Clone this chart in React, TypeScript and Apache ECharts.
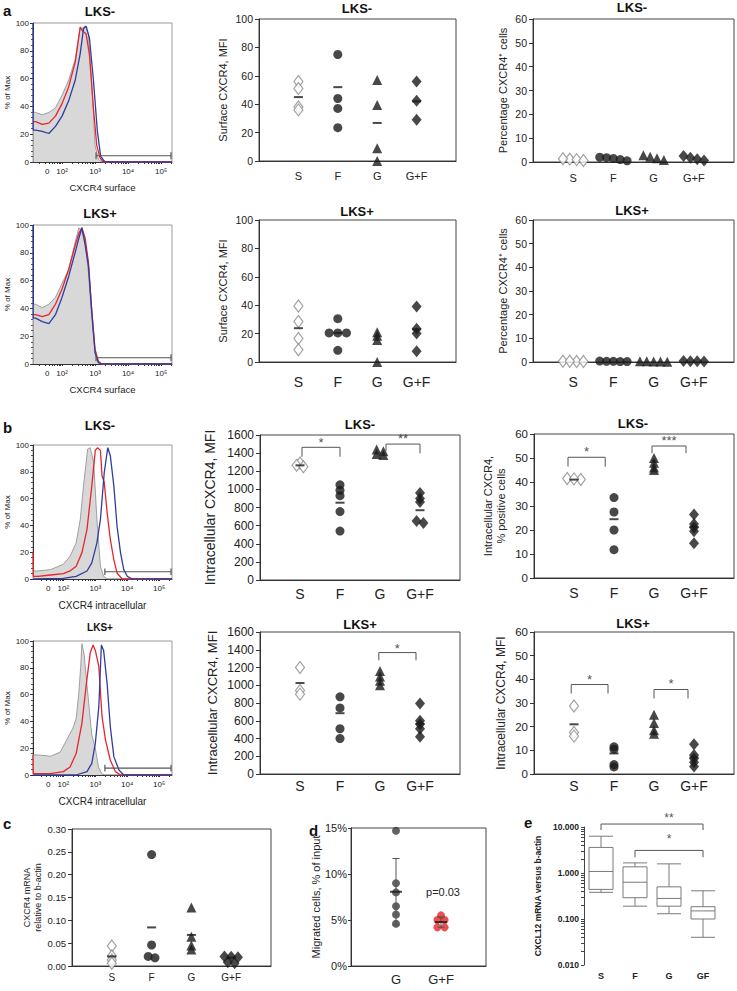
import React, { useEffect, useRef } from 'react';
import * as echarts from 'echarts';

const FONT = '"Liberation Sans", Arial, Helvetica, sans-serif';
const INK = '#1a1a1a';
const LABEL = '#222';

// ---------- categories / tick labels ----------
const groupNames = ['S', 'F', 'G', 'G+F'];
const boxGroupNames = ['S', 'F', 'G', 'GF'];
const histTickLabels = ['0', '10²', '10³', '10⁴', '10⁵'];
const histTickPosA = [1.55, 2, 3, 4, 5];
const histTickPosB = [1.53, 2, 3, 4, 5];
const migrationNames = ['G', 'G+F'];

// ---------- panel a: flow histograms (x = log10 fluorescence, y = % of max) ----------
const histSurfNegGrey = [[1.13, 36], [1.2, 35.6], [1.4, 34], [1.6, 35.6], [1.8, 39], [2.0, 48], [2.2, 59], [2.4, 74], [2.55, 97], [2.6, 96], [2.7, 98], [2.8, 92], [2.9, 57], [3.0, 12], [3.1, 2], [3.2, 0], [5.33, 0]];
const histSurfNegRed = [[1.13, 29], [1.2, 29], [1.4, 27], [1.6, 28], [1.8, 33], [2.0, 42], [2.2, 54], [2.4, 72], [2.55, 97], [2.63, 94], [2.73, 92], [2.83, 77], [2.95, 39], [3.05, 12], [3.15, 3], [3.25, 0], [5.33, 0]];
const histSurfNegBlue = [[1.12, 100], [1.125, 23], [1.2, 23], [1.4, 22], [1.6, 20.5], [1.8, 25.6], [2.0, 33], [2.2, 44], [2.4, 59], [2.55, 78], [2.65, 96], [2.73, 97.7], [2.83, 89], [2.95, 59], [3.07, 22], [3.17, 4], [3.3, 0], [5.33, 0]];
const histSurfPosGrey = [[1.13, 43], [1.2, 43], [1.4, 40.5], [1.6, 43], [1.8, 48], [2.0, 58], [2.2, 68], [2.4, 88], [2.51, 98], [2.6, 95.5], [2.7, 88], [2.8, 65.5], [2.9, 33], [3.0, 8], [3.1, 1], [3.2, 0], [5.33, 0]];
const histSurfPosRed = [[1.13, 35.5], [1.2, 35.5], [1.4, 34], [1.6, 35.5], [1.8, 43], [2.0, 54], [2.2, 68], [2.4, 85.5], [2.51, 94], [2.6, 98], [2.7, 90.5], [2.8, 73], [2.9, 38], [3.0, 10.5], [3.1, 2], [3.2, 0], [5.33, 0]];
const histSurfPosBlue = [[1.12, 100], [1.125, 33], [1.2, 33], [1.4, 30.5], [1.6, 29], [1.8, 35.5], [2.0, 48], [2.2, 63], [2.4, 80.5], [2.51, 90.5], [2.6, 98], [2.7, 85.5], [2.8, 70.5], [2.9, 38], [3.0, 8], [3.1, 1], [3.2, 0], [5.33, 0]];
const gateSurface = [3.03, 4.5];

// ---------- panel b: flow histograms ----------
const histIntraNegGrey = [[1.06, 6], [1.2, 6], [1.6, 7], [2.0, 11], [2.21, 17], [2.4, 27], [2.53, 44.5], [2.63, 69.5], [2.76, 97], [2.84, 98], [2.95, 87], [3.05, 44.5], [3.16, 9.5], [3.26, 2], [3.37, 0], [5.4, 0]];
const histIntraNegRed = [[1.05, 20], [1.06, 2], [1.2, 2], [1.6, 3], [2.0, 4], [2.21, 6], [2.4, 9.5], [2.58, 19.5], [2.74, 37], [2.89, 69.5], [3.0, 96], [3.07, 98], [3.16, 96], [3.21, 77], [3.28, 72], [3.37, 49.5], [3.47, 29.5], [3.58, 14.5], [3.68, 4.5], [3.84, 0], [5.4, 0]];
const histIntraNegBlue = [[1.06, 0], [2.0, 0.5], [2.4, 2], [2.74, 6], [2.89, 12], [3.05, 27], [3.16, 44.5], [3.28, 79.5], [3.39, 98], [3.47, 92], [3.58, 69.5], [3.68, 39.5], [3.79, 19.5], [3.89, 7], [4.0, 2], [4.16, 0], [5.4, 0]];
const histIntraPosGrey = [[1.06, 15], [1.2, 15], [1.6, 14], [1.9, 17], [2.1, 26], [2.3, 35], [2.4, 42], [2.48, 60], [2.54, 80], [2.58, 98], [2.65, 90], [2.76, 62], [2.89, 30], [3.0, 20], [3.1, 6], [3.2, 1], [3.3, 0], [5.4, 0]];
const histIntraPosRed = [[1.05, 15], [1.06, 1], [1.6, 1], [2.0, 2.5], [2.21, 6], [2.4, 16], [2.58, 38.5], [2.72, 68], [2.84, 91], [2.93, 97], [3.0, 93], [3.11, 81], [3.21, 43.5], [3.32, 26], [3.47, 11], [3.63, 2.5], [3.79, 0], [5.4, 0]];
const histIntraPosBlue = [[1.06, 0], [2.4, 0], [2.74, 2.5], [2.89, 8.7], [3.0, 23.6], [3.11, 51], [3.19, 97], [3.26, 93], [3.37, 68], [3.47, 36], [3.58, 13.7], [3.74, 3.7], [3.89, 0], [5.4, 0]];
const gateIntraNeg = [3.3, 5.4];
const gateIntraPos = [3.3, 5.2];

// ---------- panel a: dot plots ----------
const surfMfiNeg = [[56, 51, 38, 36], [75, 44, 37, 23.5], [57, 39.5, 9, 0], [56, 42.5, 29]];
const surfMfiNegMean = [45, 52, 26.8, 42];
const surfPctNeg = [[1.2, 1.0, 0.6, 1.4], [1.8, 2.0, 1.5, 1.0, 0.5], [2.8, 2.2, 1.6, 0.8], [2.5, 1.8, 1.2, 0.6]];
const surfMfiPos = [[39.5, 28.5, 16.5, 8.7], [30.5, 20.5, 20.5, 20.5, 8.2], [21, 18.5, 15.5, 0], [39, 23.5, 20, 7.5]];
const surfMfiPosMean = [23.8, 20.5, null, 23];
const surfPctPos = [[0.3, 0.2, 0.3, 0.2], [0.3, 0.4, 0.3, 0.2, 0.2], [0.2, 0.3, 0.1, 0.2, 0.3], [0.4, 0.3, 0.3, 0.2]];

// ---------- panel b: dot plots ----------
const intraMfiNeg = [[1290, 1265, 1250], [1050, 990, 930, 755, 540], [1440, 1420, 1390, 1380], [960, 900, 860, 650, 630]];
const intraMfiNegMean = [1265, 853, null, 770];
const intraPctNeg = [[41.5, 41, 41.3], [33.5, 27.5, 20, 11.8], [50, 48, 46, 45], [26.5, 22.5, 21, 19.5, 14.5]];
const intraPctNegMean = [41, 24.5, null, 21.3];
const intraMfiPos = [[1200, 940, 900], [870, 745, 510, 400], [1160, 1100, 1050, 1000], [795, 600, 560, 510, 420]];
const intraMfiPosMean = [1025, 685, null, 565];
const intraMfiPos2 = [[28.7, 17.5, 16], [11.5, 10.5, 4, 3], [25, 21.5, 18.5, 17], [12.6, 8, 6.5, 5, 3.2]];
const intraMfiPos2Mean = [21, 8.7, null, 7];

// brackets: [x1, x2, top, end1, end2, stars, starY]
const bracketsB1 = [[1.05, 2, 1464, 1360, 1360, '*', 1515], [3.15, 4, 1500, 1420, 1398, '**', 1560]];
const bracketsB2 = [[0.85, 1.78, 50.3, 46.4, 46.4, '*', 52.7], [2.95, 3.8, 55, 52, 52, '***', 57.3]];
const bracketsB3 = [[2.97, 3.9, 1368, 1281, 1281, '*', 1413]];
const bracketsB4 = [[0.93, 1.85, 37.8, 34, 34, '*', 40], [3.0, 3.85, 35.7, 31.9, 31.9, '*', 38.2]];

// ---------- panel c ----------
const mrnaCxcr4 = [[0.044, 0.022, 0.013, 0.006], [0.244, 0.046, 0.021, 0.018], [0.128, 0.064, 0.045, 0.036], [0.021, 0.02, 0.019, 0.008, 0.006]];
const mrnaCxcr4Mean = [0.021, 0.0845, 0.068, 0.018];

// ---------- panel d ----------
const migratedG = [14.7, 9.0, 8.0, 6.5, 5.6, 4.6];
const migratedGF = [5.5, 5.0, 5.0, 4.2, 4.2];

// ---------- panel e (min, Q1, median, Q3, max) ----------
const cxcl12Box = [[0.38, 0.44, 1.08, 3.6, 6.3], [0.19, 0.29, 0.63, 1.36, 1.66], [0.13, 0.19, 0.28, 0.5, 1.58], [0.04, 0.1, 0.15, 0.185, 0.41]];
const bracketsE = [[0, 3, 11.6, 8.6, 8.6, '**', 15.5], [1, 3, 3.1, 2.2, 2.2, '*', 5.6]];

// ---------- layout ----------
const GRIDS = [
  { left: 33, top: 23, width: 139, height: 139 }, // 0 hist a LKS-
  { left: 259, top: 19, width: 197, height: 142 }, // 1
  { left: 533, top: 19, width: 201, height: 143 }, // 2
  { left: 33, top: 225, width: 139, height: 139 }, // 3 hist a LKS+
  { left: 259, top: 220, width: 197, height: 142 }, // 4
  { left: 533, top: 220, width: 201, height: 142 }, // 5
  { left: 33, top: 445, width: 139, height: 134 }, // 6 hist b LKS-
  { left: 260, top: 435, width: 200, height: 145 }, // 7
  { left: 534, top: 434, width: 200, height: 144 }, // 8
  { left: 33, top: 641, width: 139, height: 134 }, // 9 hist b LKS+
  { left: 260, top: 632, width: 200, height: 142 }, // 10
  { left: 534, top: 632, width: 200, height: 142 }, // 11
  { left: 72, top: 829, width: 199, height: 137 }, // 12 c
  { left: 351, top: 828, width: 135, height: 138 }, // 13 d
  { left: 584, top: 827, width: 136, height: 138 }, // 14 e
];
const HIST = [0, 3, 6, 9];

const ts = (size: number, extra: any = {}) => ({ fontFamily: FONT, fontSize: size, color: LABEL, ...extra });

function logTicks(min: number, max: number) {
  const t: number[] = [];
  for (let k = 1; k <= 5; k++) for (let m = 1; m <= 9; m++) {
    const v = k + Math.log10(m);
    if (v >= min && v <= max) t.push(v);
  }
  return t;
}

function histAxes(gi: number, min: number, max: number, tickPos: number[], name: string, nameSize: number, nameGap: number) {
  const x = {
    type: 'value', gridIndex: gi, min, max,
    axisLine: { show: true, lineStyle: { color: '#333', width: 1 } },
    axisTick: { show: true, customValues: logTicks(min, max), length: 2, lineStyle: { color: '#333' } },
    axisLabel: { show: true, customValues: tickPos, formatter: (v: number) => (v < 1.9 ? histTickLabels[0] : histTickLabels[Math.round(v) - 1]), ...ts(8), margin: 5 },
    splitLine: { show: false },
    name, nameLocation: 'middle', nameGap, nameTextStyle: ts(nameSize),
  };
  const y = {
    type: 'value', gridIndex: gi, min: 0, max: 100, interval: 20,
    axisLine: { show: true, lineStyle: { color: '#333', width: 1 } },
    axisTick: { show: true, length: 3, lineStyle: { color: '#333' } },
    minorTick: { show: true, splitNumber: 5, length: 2, lineStyle: { color: '#555' } },
    axisLabel: { ...ts(8), margin: 4 },
    splitLine: { show: false },
    name: '% of Max', nameLocation: 'middle', nameGap: 22, nameTextStyle: ts(8),
  };
  return { x, y };
}

function dotAxes(gi: number, yMax: number, interval: number, o: any) {
  const x = {
    type: 'value', gridIndex: gi, min: 0, max: 5,
    axisLine: { show: true, lineStyle: { color: '#333', width: 1 } },
    axisTick: { show: false },
    axisLabel: { show: true, customValues: [1, 2, 3, 4], formatter: (v: number) => groupNames[Math.round(v) - 1], ...ts(o.xSize), margin: o.xMargin },
    splitLine: { show: false },
  };
  const y = {
    type: 'value', gridIndex: gi, min: 0, max: yMax, interval,
    axisLine: { show: true, lineStyle: { color: '#333', width: 1 } },
    axisTick: { show: true, length: 4, lineStyle: { color: '#333' } },
    axisLabel: { ...ts(o.ySize), margin: 6, formatter: o.fmt || ((v: number) => String(v)) },
    splitLine: { show: false },
    name: o.name, nameLocation: 'middle', nameGap: o.nameGap, nameTextStyle: ts(o.nameSize, { lineHeight: o.nameSize + 2 }),
  };
  return { x, y };
}

const markers = [
  { symbol: 'diamond', size: [9, 12], itemStyle: { color: '#fff', borderColor: '#8a8a8a', borderWidth: 1.2 } },
  { symbol: 'circle', size: 9, itemStyle: { color: INK } },
  { symbol: 'triangle', size: 10, itemStyle: { color: INK } },
  { symbol: 'diamond', size: [10, 12], itemStyle: { color: INK } },
];

function dodge(vals: number[], range: number, step: number) {
  const order = vals.map((_, i) => i).sort((a, b) => vals[b] - vals[a]);
  const off = new Array(vals.length).fill(0);
  let cluster: number[] = [];
  const flush = () => {
    const n = cluster.length;
    cluster.forEach((idx, k) => { off[idx] = (k - (n - 1) / 2) * step; });
    cluster = [];
  };
  order.forEach((idx) => {
    if (cluster.length && vals[cluster[cluster.length - 1]] - vals[idx] > range * 0.015) flush();
    cluster.push(idx);
  });
  flush();
  return off;
}

function dotSeries(gi: number, groups: number[][], means: (number | null)[], range: number, step = 0.17) {
  const out: any[] = [];
  groups.forEach((vals, g) => {
    const off = dodge(vals, range, step);
    const m = markers[g];
    out.push({
      type: 'scatter', xAxisIndex: gi, yAxisIndex: gi, symbol: m.symbol, symbolSize: m.size,
      itemStyle: m.itemStyle, data: vals.map((v, i) => [g + 1 + off[i], v]), silent: true, z: 3, clip: false,
    });
  });
  const md: any[] = [];
  means.forEach((m, g) => { if (m != null) md.push([g + 1, m]); });
  out.push({ type: 'scatter', xAxisIndex: gi, yAxisIndex: gi, symbol: 'rect', symbolSize: [9, 2], itemStyle: { color: INK }, data: md, silent: true, z: 4 });
  return out;
}

function bracketSeries(gi: number, list: any[], starSize = 13) {
  const out: any[] = [];
  list.forEach(([x1, x2, top, e1, e2, txt, ty]) => {
    out.push({
      type: 'line', xAxisIndex: gi, yAxisIndex: gi, symbol: 'none', clip: false, silent: true, z: 5,
      lineStyle: { color: '#555', width: 1 }, data: [[x1, e1], [x1, top], [x2, top], [x2, e2]],
    });
    out.push({
      type: 'scatter', xAxisIndex: gi, yAxisIndex: gi, symbolSize: 1, clip: false, silent: true, z: 5,
      itemStyle: { color: 'rgba(0,0,0,0)' }, data: [[(x1 + x2) / 2, ty]],
      label: { show: true, position: 'inside', formatter: txt, ...ts(starSize) },
    });
  });
  return out;
}

function histSeries(gi: number, grey: number[][], red: number[][], blue: number[][], gate: number[], max: number) {
  const base = { type: 'line', xAxisIndex: gi, yAxisIndex: gi, symbol: 'none', silent: true };
  const g1 = gate[0], g2 = max - 0.03, gy = gate[1];
  return [
    { ...base, data: grey, lineStyle: { color: '#8c8c8c', width: 0.8 }, areaStyle: { color: '#d8d8d8', opacity: 1 }, z: 2 },
    { ...base, data: red, lineStyle: { color: '#e8252b', width: 1.3 }, z: 3 },
    { ...base, data: blue, lineStyle: { color: '#2f3e9e', width: 1.3 }, z: 4 },
    { ...base, data: [[g1, gy - 2.5], [g1, gy + 2.5], [g1, gy], [g2, gy], [g2, gy + 2.5], [g2, gy - 2.5]], lineStyle: { color: '#555', width: 1.2 }, z: 5 },
  ];
}

function segment(gi: number, pts: number[][], color: string) {
  return { type: 'line', xAxisIndex: gi, yAxisIndex: gi, symbol: 'none', silent: true, z: 4, lineStyle: { color, width: 1 }, data: pts };
}

function meanSd(v: number[]) {
  const m = v.reduce((a, b) => a + b, 0) / v.length;
  const sd = Math.sqrt(v.reduce((a, b) => a + (b - m) * (b - m), 0) / (v.length - 1));
  return [m, sd];
}

function buildOption() {
  const xAxis: any[] = [];
  const yAxis: any[] = [];
  const series: any[] = [];

  const push = (ax: any) => { xAxis.push(ax.x); yAxis.push(ax.y); };

  // row a1
  push(histAxes(0, 1.12, 5.33, histTickPosA, 'CXCR4 surface', 9.5, 20));
  push(dotAxes(1, 100, 20, { xSize: 11, xMargin: 9, ySize: 10.5, name: 'Surface CXCR4, MFI', nameSize: 11, nameGap: 30 }));
  push(dotAxes(2, 60, 10, { xSize: 11, xMargin: 10, ySize: 10.5, name: 'Percentage CXCR4⁺ cells', nameSize: 11, nameGap: 24 }));
  // row a2
  push(histAxes(3, 1.12, 5.33, histTickPosA, 'CXCR4 surface', 9.5, 20));
  push(dotAxes(4, 100, 20, { xSize: 14, xMargin: 13, ySize: 10.5, name: 'Surface CXCR4, MFI', nameSize: 11, nameGap: 30 }));
  push(dotAxes(5, 60, 10, { xSize: 14, xMargin: 13, ySize: 10.5, name: 'Percentage CXCR4⁺ cells', nameSize: 11, nameGap: 24 }));
  // row b1
  push(histAxes(6, 1.05, 5.4, histTickPosB, 'CXCR4 intracellular', 10, 21));
  push(dotAxes(7, 1600, 200, { xSize: 14, xMargin: 7, ySize: 12, name: 'Intracellular CXCR4, MFI', nameSize: 14, nameGap: 42 }));
  push(dotAxes(8, 60, 10, { xSize: 14, xMargin: 8, ySize: 11.5, name: 'Intracellular CXCR4,\n% positive cells', nameSize: 11, nameGap: 27 }));
  // row b2
  push(histAxes(9, 1.05, 5.4, histTickPosB, 'CXCR4 intracellular', 10, 21));
  push(dotAxes(10, 1600, 200, { xSize: 14, xMargin: 5, ySize: 12, name: 'Intracellular CXCR4, MFI', nameSize: 13, nameGap: 40 }));
  push(dotAxes(11, 60, 10, { xSize: 14, xMargin: 5, ySize: 11.5, name: 'Intracellular CXCR4, MFI', nameSize: 12, nameGap: 26 }));
  // c
  push(dotAxes(12, 0.3, 0.05, { xSize: 10, xMargin: 6, ySize: 9.5, fmt: (v: number) => v.toFixed(2), name: 'CXCR4 mRNA\nrelative to b-actin', nameSize: 9, nameGap: 26 }));
  // d
  xAxis.push({
    type: 'value', gridIndex: 13, min: 0, max: 3,
    axisLine: { show: true, lineStyle: { color: '#333' } }, axisTick: { show: false }, splitLine: { show: false },
    axisLabel: { customValues: [1, 2], formatter: (v: number) => migrationNames[Math.round(v) - 1], ...ts(13), margin: 7 },
  });
  yAxis.push({
    type: 'value', gridIndex: 13, min: 0, max: 15, interval: 5,
    axisLine: { show: true, lineStyle: { color: '#333' } }, axisTick: { show: true, length: 3 }, splitLine: { show: false },
    axisLabel: { ...ts(11), margin: 4, formatter: (v: number) => v + '%' },
    name: 'Migrated cells, % of input', nameLocation: 'middle', nameGap: 27, nameTextStyle: ts(11),
  });
  // e
  const eTicks: number[] = [];
  [0.01, 0.1, 1].forEach((d) => { for (let m = 1; m <= 9; m++) eTicks.push(+(d * m).toFixed(4)); });
  eTicks.push(10);
  xAxis.push({
    type: 'category', gridIndex: 14, data: boxGroupNames,
    axisLine: { show: false }, axisTick: { show: false }, splitLine: { show: false },
    axisLabel: { ...ts(9, { fontWeight: 'bold' }), margin: 6 },
  });
  yAxis.push({
    type: 'log', gridIndex: 14, min: 0.01, max: 10, logBase: 10,
    axisLine: { show: true, lineStyle: { color: '#444' } },
    axisTick: { show: true, length: 3, customValues: eTicks, lineStyle: { color: '#444' } },
    splitLine: { show: false },
    axisLabel: { ...ts(8.5, { fontWeight: 'bold' }), margin: 5, formatter: (v: number) => v.toFixed(3) },
    name: 'CXCL12 mRNA versus b-actin', nameLocation: 'middle', nameGap: 42, nameTextStyle: ts(8.5, { fontWeight: 'bold' }),
  });

  // series
  series.push(...histSeries(0, histSurfNegGrey, histSurfNegRed, histSurfNegBlue, gateSurface, 5.33));
  series.push(...histSeries(3, histSurfPosGrey, histSurfPosRed, histSurfPosBlue, gateSurface, 5.33));
  series.push(...histSeries(6, histIntraNegGrey, histIntraNegRed, histIntraNegBlue, gateIntraNeg, 5.4));
  series.push(...histSeries(9, histIntraPosGrey, histIntraPosRed, histIntraPosBlue, gateIntraPos, 5.4));

  series.push(...dotSeries(1, surfMfiNeg, surfMfiNegMean, 100));
  series.push(...dotSeries(2, surfPctNeg, [null, null, null, null], 60));
  series.push(...dotSeries(4, surfMfiPos, surfMfiPosMean, 100, 0.22));
  series.push(...dotSeries(5, surfPctPos, [null, null, null, null], 60));
  series.push(...dotSeries(7, intraMfiNeg, intraMfiNegMean, 1600));
  series.push(...dotSeries(8, intraPctNeg, intraPctNegMean, 60));
  series.push(...dotSeries(10, intraMfiPos, intraMfiPosMean, 1600));
  series.push(...dotSeries(11, intraMfiPos2, intraMfiPos2Mean, 60));
  series.push(...dotSeries(12, mrnaCxcr4, mrnaCxcr4Mean, 0.3));

  series.push(...bracketSeries(7, bracketsB1));
  series.push(...bracketSeries(8, bracketsB2));
  series.push(...bracketSeries(10, bracketsB3));
  series.push(...bracketSeries(11, bracketsB4));
  series.push(...bracketSeries(14, bracketsE, 12));

  // d
  const groupsD = [migratedG, migratedGF];
  const colorsD = ['#3c3c3c', '#e3262b'];
  groupsD.forEach((vals, g) => {
    const x = g + 1;
    const [m, sd] = meanSd(vals);
    const off = dodge(vals, 15, 0.16);
    const c = 0.08;
    series.push(segment(13, [[x, m - sd], [x, m + sd]], '#555'));
    series.push(segment(13, [[x - c, m + sd], [x + c, m + sd]], '#555'));
    series.push(segment(13, [[x - c, m - sd], [x + c, m - sd]], '#555'));
    series.push({
      type: 'scatter', xAxisIndex: 13, yAxisIndex: 13, symbol: 'circle', symbolSize: 8, clip: false, silent: true, z: 3,
      itemStyle: { color: colorsD[g] }, data: vals.map((v, i) => [x + off[i], v]),
    });
    series.push({
      type: 'scatter', xAxisIndex: 13, yAxisIndex: 13, symbol: 'rect', symbolSize: [12, 2], silent: true, z: 5,
      itemStyle: { color: INK }, data: [[x, m]],
    });
  });

  // e
  series.push({
    type: 'boxplot', xAxisIndex: 14, yAxisIndex: 14, data: cxcl12Box, boxWidth: [24, 24], silent: true,
    itemStyle: { color: '#fff', borderColor: '#7a7a7a', borderWidth: 1 },
  });

  const texts: any[] = [
    ['a', 3, 10, 15, 'left'],
    ['LKS-', 100, 11, 13, 'center'],
    ['LKS-', 357, 8, 13, 'center'],
    ['LKS-', 632, 7, 13, 'center'],
    ['LKS+', 100, 213, 13, 'center'],
    ['LKS+', 357, 211, 13, 'center'],
    ['LKS+', 632, 210, 13, 'center'],
    ['b', 3, 427, 15, 'left'],
    ['LKS-', 100, 425, 13, 'center'],
    ['LKS-', 360, 424, 13, 'center'],
    ['LKS-', 633, 423, 13, 'center'],
    ['LKS+', 100, 627, 10, 'center'],
    ['LKS+', 360, 624, 13, 'center'],
    ['LKS+', 633, 623, 13, 'center'],
    ['c', 3, 823, 15, 'left'],
    ['d', 309, 830, 15, 'left'],
    ['e', 524, 822, 15, 'left'],
  ];
  const elements: any[] = texts.map(([t, x, y, s, a]) => ({
    type: 'text', x, y, silent: true,
    style: { text: t, fill: '#111', fontFamily: FONT, fontSize: s, fontWeight: 'bold', align: a, verticalAlign: 'middle', textAlign: a, textVerticalAlign: 'middle' },
  }));
  elements.push({
    type: 'text', x: 443, y: 892, silent: true,
    style: { text: 'p=0.03', fill: '#222', fontFamily: FONT, fontSize: 11, align: 'center', verticalAlign: 'middle', textAlign: 'center', textVerticalAlign: 'middle' },
  });

  const grid = GRIDS.map((g, i) => ({
    ...g, containLabel: false, outerBoundsMode: 'none',
    show: i !== 14, borderWidth: 1,
    borderColor: HIST.includes(i) ? '#9a9a9a' : '#444',
    backgroundColor: 'rgba(0,0,0,0)',
  }));

  return {
    animation: false,
    backgroundColor: '#ffffff',
    textStyle: { fontFamily: FONT, color: LABEL },
    grid, xAxis, yAxis, series,
    graphic: { elements },
  };
}

export default function App() {
  const ref = useRef<HTMLDivElement>(null);
  useEffect(() => {
    if (!ref.current) return;
    const chart = echarts.init(ref.current, null, { renderer: 'svg' });
    chart.setOption(buildOption() as any);
    return () => chart.dispose();
  }, []);
  return <div ref={ref} style={{ position: 'absolute', left: 0, top: 0, width: 737, height: 991, background: '#fff' }} />;
}
